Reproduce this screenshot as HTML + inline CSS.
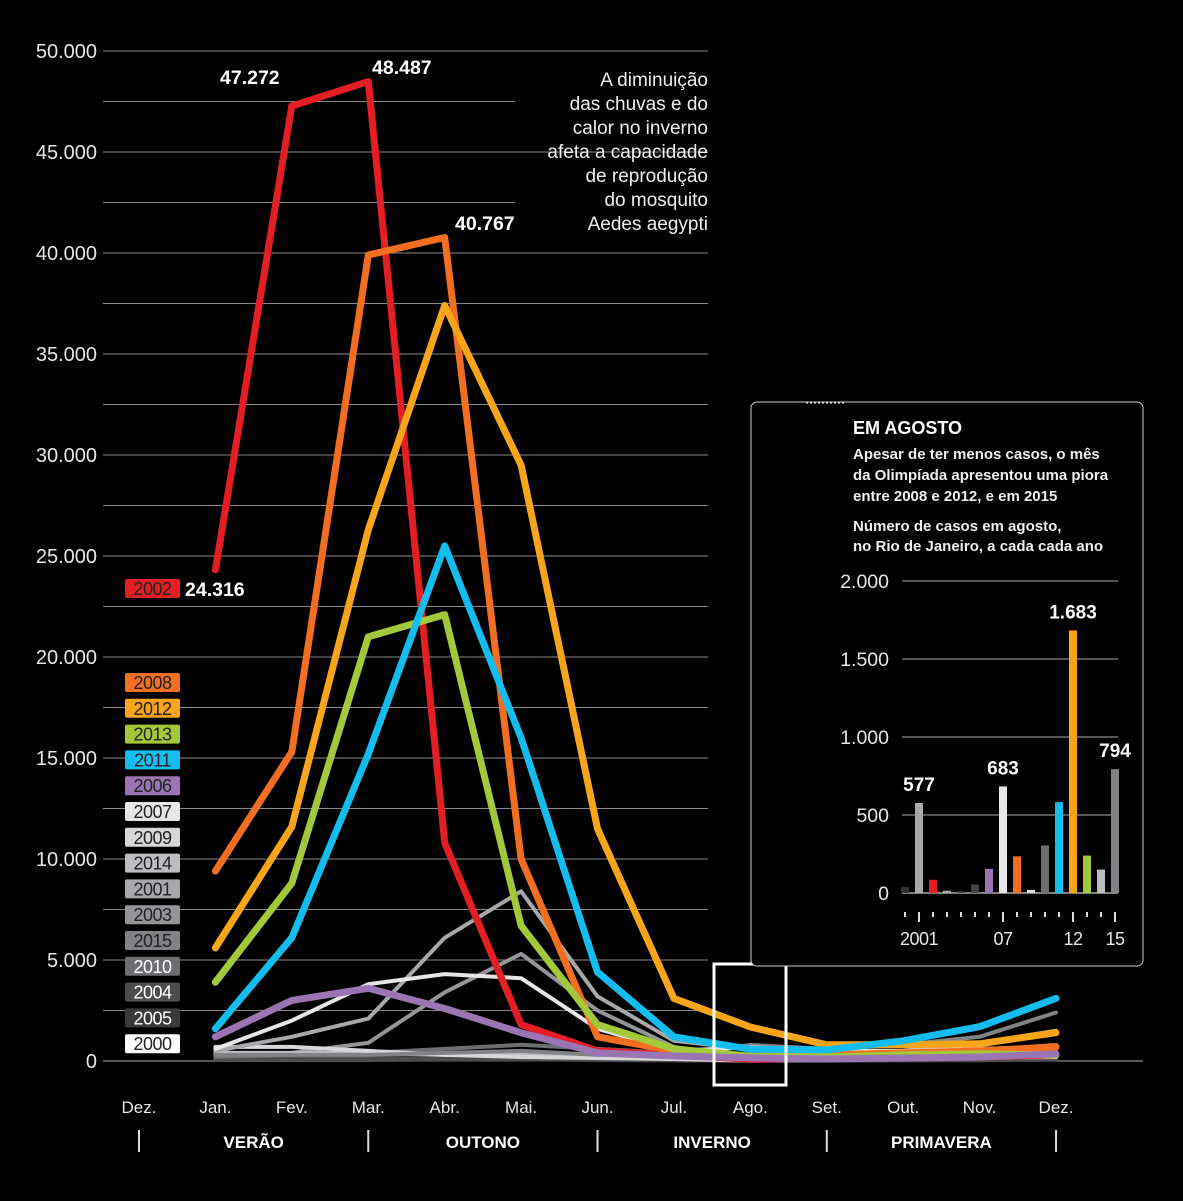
<!DOCTYPE html>
<html><head><meta charset="utf-8"><style>
body{margin:0;background:#000;}
svg{display:block;font-family:"Liberation Sans",sans-serif;}
</style></head><body>
<svg id="c" width="1183" height="1201" viewBox="0 0 1183 1201">
<rect width="1183" height="1201" fill="#000"/>
<g id="grid"></g>
<g id="lines"></g>
<g id="labels"></g>
<g fill="#eee" font-size="19" text-anchor="end">
<text x="708" y="86">A diminuição</text><text x="708" y="110">das chuvas e do</text><text x="708" y="134">calor no inverno</text><text x="708" y="158">afeta a capacidade</text><text x="708" y="182">de reprodução</text><text x="708" y="206">do mosquito</text><text x="708" y="230">Aedes aegypti</text>
</g>
<g fill="#fff" font-size="19.5" font-weight="bold">
<text x="220" y="84">47.272</text><text x="372" y="74">48.487</text><text x="455" y="230">40.767</text><text x="185" y="596">24.316</text>
</g>
<rect x="714" y="964" width="72" height="121" fill="none" stroke="#fff" stroke-width="3"/>
<line x1="751" y1="962" x2="751" y2="930" stroke="#fff" stroke-width="1"/>
<g>
<rect x="751" y="402" width="392" height="564" rx="6" fill="#000" stroke="#ccc" stroke-width="1"/>
<line x1="806" y1="403" x2="846" y2="403" stroke="#fff" stroke-dasharray="2,2"/>
<text x="853" y="434" fill="#fff" font-size="18" font-weight="bold">EM AGOSTO</text>
<g fill="#eee" font-size="15" font-weight="bold"><text x="853" y="459">Apesar de ter menos casos, o mês</text><text x="853" y="480">da Olimpíada apresentou uma piora</text><text x="853" y="501">entre 2008 e 2012, e em 2015</text><text x="853" y="531">Número de casos em agosto,</text><text x="853" y="551">no Rio de Janeiro, a cada cada ano</text></g>
<g id="inset"></g>
</g>
<g id="months"></g>
</svg>
<script>
const months=["Dez.","Jan.","Fev.","Mar.","Abr.","Mai.","Jun.","Jul.","Ago.","Set.","Out.","Nov.","Dez."];
const yTicks=[0,5000,10000,15000,20000,25000,30000,35000,40000,45000,50000];
const yTickLabels=["0","5.000","10.000","15.000","20.000","25.000","30.000","35.000","40.000","45.000","50.000"];
const seriesYears=["2000","2005","2004","2010","2003","2014","2009","2015","2001","2007","2002","2008","2012","2013","2011","2006"];
const s2000=[200,200,150,150,100,80,50,40,40,50,60,80];
const s2005=[150,150,200,200,150,100,60,55,50,60,80,100];
const s2004=[100,100,100,80,80,50,30,10,20,30,40,60];
const s2010=[200,300,400,600,800,600,400,305,300,400,500,800];
const s2003=[300,400,900,3400,5300,2500,700,15,100,200,300,500];
const s2014=[400,400,400,300,300,200,150,150,100,150,200,300];
const s2009=[700,700,500,300,200,150,100,20,50,100,150,200];
const s2015=[300,300,300,400,500,300,300,794,600,800,1200,2400];
const s2001=[500,1200,2100,6100,8400,3200,1000,577,400,500,900,1500];
const s2007=[600,2000,3800,4300,4100,1600,500,683,500,500,600,700];
const s2002=[24316,47272,48487,10800,1800,500,300,85,150,150,200,300];
const s2008=[9400,15300,39900,40767,10000,1200,500,235,300,400,500,700];
const s2012=[5600,11600,26300,37400,29500,11500,3100,1683,800,800,850,1400];
const s2013=[3900,8800,21000,22100,6700,1800,600,240,200,300,350,300];
const s2011=[1600,6100,15200,25500,16000,4400,1200,583,550,1000,1700,3100];
const s2006=[1200,3000,3600,2600,1400,400,250,155,100,150,200,350];
const seriesData=[s2000,s2005,s2004,s2010,s2003,s2014,s2009,s2015,s2001,s2007,s2002,s2008,s2012,s2013,s2011,s2006];
const insetYears=["2000","2001","2002","2003","2004","2005","2006","2007","2008","2009","2010","2011","2012","2013","2014","2015"];
const insetValues=[40,577,85,15,10,55,155,683,235,20,305,583,1683,240,150,794];
const insetTicks=[0,500,1000,1500,2000];
const insetTickLabels=["0","500","1.000","1.500","2.000"];
const legendOrder=["2008","2012","2013","2011","2006","2007","2009","2014","2001","2003","2015","2010","2004","2005","2000"];
const colors={"2000":"#ffffff","2001":"#a7a8ab","2002":"#e31e24","2003":"#939598","2004":"#4d4d4f","2005":"#3a3a3c","2006":"#9b74b3","2007":"#e6e6e6","2008":"#f26f21","2009":"#d6d7d9","2010":"#6d6e71","2011":"#13bdf0","2012":"#f9a51a","2013":"#a3c93a","2014":"#bcbdc0","2015":"#808285"};
const insetColors={"2000":"#333","2003":"#aaa","2004":"#444","2005":"#444","2009":"#ddd"};
const bold=["2002","2008","2012","2013","2011","2006"];
const NS="http://www.w3.org/2000/svg";
function mk(tag,attrs,parent,txt){const e=document.createElementNS(NS,tag);for(const k in attrs)e.setAttribute(k,attrs[k]);if(txt!==undefined)e.textContent=txt;parent.appendChild(e);return e;}
const X=i=>139+i*76.42;
const Y=v=>1061-v*(1010/50000);
const grid=document.getElementById('grid');
for(let v=0;v<=50000;v+=2500){
  const y=Y(v);let x2=708;
  if(v===0)x2=1143;else if(v%5000!==0&&v>40000)x2=515;
  const l=mk('line',{x1:103,x2:x2,y1:y,y2:y,stroke:v===0?'#aaa':'#888','stroke-width':1},grid);
  
  
}
yTicks.forEach((v,i)=>{const t=mk('text',{x:97,y:Y(v)+7,'text-anchor':'end',fill:'#e6e6e6','font-size':20},grid,yTickLabels[i]);

});
const lines=document.getElementById('lines');
seriesData.forEach((d,si)=>{const yr=seriesYears[si];
  const pts=d.map((v,i)=>X(i+1).toFixed(1)+','+Y(v).toFixed(1)).join(' ');
  const p=mk('polyline',{points:pts,fill:'none',stroke:colors[yr],'stroke-width':bold.includes(yr)?7:4,'stroke-linejoin':'round','stroke-linecap':'round'},lines);
  
  
});
const labels=document.getElementById('labels');
function legendBox(yr,y,g){const r=mk('rect',{x:125,y:y,width:55,height:19,rx:2,fill:colors[yr]},g);
  
  
  const dark=["2004","2005","2010"].includes(yr);
  const t=mk('text',{x:152.5,y:y+16,'text-anchor':'middle','font-size':18,fill:dark?'#fff':'#222','letter-spacing':'-0.5'},g,yr);
  
  }
legendBox("2002",579,labels);
legendOrder.forEach((yr,i)=>legendBox(yr,673+i*25.8,labels));
const m=document.getElementById('months');
months.forEach((s,i)=>{const t=mk('text',{x:X(i),y:1113,'text-anchor':'middle',fill:'#e6e6e6','font-size':17},m,s);

});
[0,3,6,9,12].forEach(i=>{const l=mk('line',{x1:X(i),x2:X(i),y1:1130,y2:1152,stroke:'#ddd','stroke-width':2},m);

});
const seasons=["VERÃO","OUTONO","INVERNO","PRIMAVERA"];
seasons.forEach((s,i)=>{const t=mk('text',{x:(X(i*3)+X(i*3+3))/2,y:1148,'text-anchor':'middle',fill:'#fff','font-size':17,'font-weight':'bold'},m,s);

});
const ins=document.getElementById('inset');
const IY=v=>893-v*(312/2000);const IX=i=>905+i*14;
insetTicks.forEach((v,i)=>{mk('line',{x1:902,x2:1118,y1:IY(v),y2:IY(v),stroke:v===0?'#fff':'#aaa','stroke-width':1},ins);
const t=mk('text',{x:889,y:IY(v)+7,'text-anchor':'end',fill:'#e6e6e6','font-size':19.5},ins,insetTickLabels[i]);

});
insetValues.forEach((v,i)=>{const yr=insetYears[i];
  const b=mk('rect',{x:IX(i)-4,y:IY(v),width:8,height:893-IY(v),fill:insetColors[yr]||colors[yr]},ins);
  
  
  const major=[1,7,12,15].includes(i);
  mk('line',{x1:IX(i),x2:IX(i),y1:912,y2:major?922:917,stroke:'#ddd','stroke-width':2},ins);
});
[[1,"2001"],[7,"07"],[12,"12"],[15,"15"]].forEach(([i,s])=>{const t=mk('text',{x:IX(i),y:945,'text-anchor':'middle',fill:'#e6e6e6','font-size':18,'letter-spacing':'-0.5'},ins,s);

});
[1,7,12,15].forEach(i=>{const t=mk('text',{x:IX(i),y:IY(insetValues[i])-12,'text-anchor':'middle',fill:'#fff','font-size':19,'font-weight':'bold'},ins,insetValues[i]>=1000?(Math.floor(insetValues[i]/1000)+'.'+String(insetValues[i]%1000).padStart(3,'0')):String(insetValues[i]));

});
</script>
</body></html>
